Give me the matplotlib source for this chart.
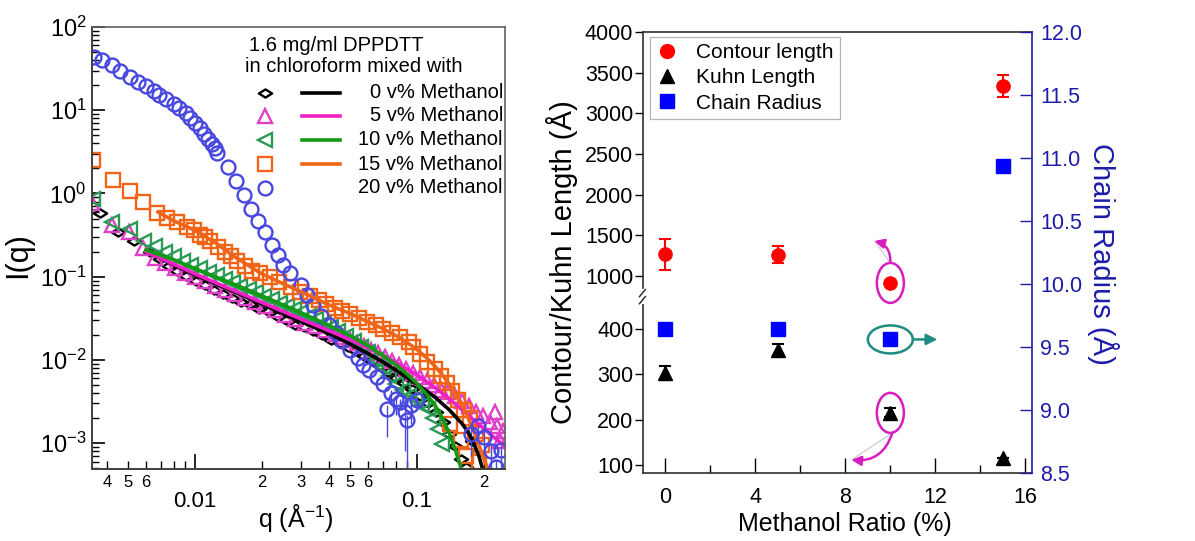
import numpy as np
import matplotlib
matplotlib.use('Agg')
import matplotlib.pyplot as plt
import matplotlib.ticker as mticker
from matplotlib.patches import Ellipse
from matplotlib.lines import Line2D
from matplotlib.path import Path
from matplotlib.transforms import ScaledTranslation

plt.rcParams['font.family'] = ['Liberation Sans', 'DejaVu Sans']
plt.rcParams['mathtext.fontset'] = 'custom'
plt.rcParams['mathtext.rm'] = 'Liberation Sans'
plt.rcParams['mathtext.it'] = 'Liberation Sans:italic'
plt.rcParams['mathtext.bf'] = 'Liberation Sans:bold'

# ---------------- left panel data: SANS I(q) ----------------
# 0 v% methanol (diamonds + fit)
q0 = [0.00373, 0.0045, 0.00531, 0.00627, 0.00695, 0.0076, 0.0083, 0.0091, 0.0101, 0.0111,
      0.0122, 0.0134, 0.0147, 0.0161, 0.0177, 0.0194, 0.0213, 0.0234, 0.0257, 0.0282,
      0.031, 0.034, 0.0373, 0.041, 0.045, 0.049, 0.0531, 0.0577, 0.0627, 0.0681,
      0.074, 0.0804, 0.0874, 0.095, 0.103, 0.112, 0.122, 0.131, 0.139, 0.148,
      0.158, 0.166, 0.176]
I0 = [0.59, 0.348, 0.265, 0.2, 0.165, 0.133, 0.116, 0.101, 0.0895, 0.080,
      0.070, 0.062, 0.055, 0.050, 0.047, 0.041, 0.0389, 0.0341, 0.030, 0.0265,
      0.025, 0.0224, 0.020, 0.0175, 0.0162, 0.0143, 0.0128, 0.0112, 0.0097, 0.0085,
      0.0072, 0.0061, 0.0053, 0.0045, 0.0037, 0.0030, 0.0024, 0.0018, 0.0013, 0.00092,
      0.00065, 0.00052, 0.00106]
fit0_q = [0.006, 0.008, 0.01, 0.015, 0.02, 0.03, 0.04, 0.05, 0.06, 0.07, 0.08, 0.1,
          0.12, 0.14, 0.16, 0.17, 0.18, 0.19, 0.197]
fit0_I = [0.2, 0.14, 0.105, 0.066, 0.047, 0.029, 0.021, 0.0155, 0.012, 0.0095, 0.0076,
          0.0051, 0.0036, 0.0025, 0.0017, 0.00135, 0.001, 0.0007, 0.0005]

# 5 v% methanol (triangles + fit)
q5 = [0.00343, 0.00423, 0.00504, 0.00583, 0.00661, 0.00732, 0.00812, 0.00901, 0.01, 0.0111,
      0.0123, 0.0137, 0.0151, 0.0168, 0.0186, 0.0207, 0.0229, 0.0254, 0.0282, 0.0313,
      0.0347, 0.0385, 0.0427, 0.0464, 0.0499, 0.0537, 0.0577, 0.062, 0.0667, 0.0718,
      0.0771, 0.0829, 0.0892, 0.0959, 0.103, 0.111, 0.119, 0.128, 0.138, 0.148,
      0.159, 0.171, 0.184, 0.198, 0.213, 0.229, 0.244, 0.236, 0.225]
I5 = [0.76, 0.42, 0.348, 0.22, 0.17, 0.146, 0.127, 0.111, 0.1, 0.0895,
      0.078, 0.070, 0.0616, 0.0553, 0.050, 0.0448, 0.040, 0.035, 0.031, 0.028,
      0.0257, 0.0231, 0.0205, 0.0189, 0.0174, 0.016, 0.0147, 0.0132, 0.0121, 0.0109,
      0.0097, 0.0088, 0.0078, 0.0069, 0.0062, 0.0056, 0.0050, 0.0044, 0.0041, 0.0037,
      0.0032, 0.0028, 0.0024, 0.0021, 0.0018, 0.0016, 0.0014, 0.00106, 0.0024]
fit5_q = [0.006, 0.008, 0.01, 0.015, 0.02, 0.03, 0.04, 0.05, 0.06, 0.07, 0.08, 0.1,
          0.12, 0.14, 0.16, 0.18, 0.2, 0.22, 0.245]
fit5_I = [0.2, 0.142, 0.108, 0.068, 0.049, 0.031, 0.0225, 0.0175, 0.014, 0.0114, 0.0094,
          0.0066, 0.0047, 0.0034, 0.0025, 0.0019, 0.0015, 0.0012, 0.00095]

# 10 v% methanol (left triangles + fit)
q10 = [0.00345, 0.0042, 0.0051, 0.0059, 0.0066, 0.0073, 0.0080, 0.0088, 0.0096, 0.0105,
       0.0115, 0.0125, 0.0136, 0.0148, 0.016, 0.0174, 0.0189, 0.0205, 0.0222, 0.024,
       0.026, 0.028, 0.030, 0.0325, 0.035, 0.038, 0.041, 0.044, 0.048, 0.052,
       0.056, 0.060, 0.065, 0.070, 0.075, 0.080, 0.086, 0.092, 0.098, 0.105,
       0.112, 0.118, 0.124, 0.130]
I10 = [0.85, 0.46, 0.37, 0.27, 0.235, 0.2, 0.175, 0.155, 0.14, 0.128,
       0.114, 0.104, 0.095, 0.086, 0.078, 0.071, 0.065, 0.059, 0.054, 0.049,
       0.045, 0.041, 0.038, 0.034, 0.031, 0.028, 0.025, 0.0225, 0.0195, 0.017,
       0.0145, 0.0125, 0.0100, 0.0082, 0.0064, 0.0052, 0.0044, 0.0037, 0.0034, 0.0029,
       0.0026, 0.0020, 0.0015, 0.00098]
fit10_q = [0.006, 0.008, 0.01, 0.015, 0.02, 0.03, 0.04, 0.05, 0.06, 0.07, 0.08, 0.09,
           0.10, 0.11, 0.12, 0.13, 0.14, 0.15, 0.158]
fit10_I = [0.21, 0.16, 0.125, 0.081, 0.059, 0.037, 0.026, 0.0195, 0.0148, 0.0114, 0.0088,
           0.0068, 0.0052, 0.0039, 0.0029, 0.002, 0.0013, 0.00078, 0.0005]

# 15 v% methanol (squares + fit)
q15 = [0.00347, 0.00427, 0.00509, 0.00583, 0.00676, 0.0075, 0.0083, 0.0092, 0.0099, 0.0105,
       0.0111, 0.0117, 0.0127, 0.0136, 0.0145, 0.0155, 0.0167, 0.018, 0.0196, 0.0217,
       0.0239, 0.0269, 0.0297, 0.0328, 0.036, 0.039, 0.0425, 0.046, 0.050, 0.055,
       0.0597, 0.065, 0.0705, 0.0772, 0.084, 0.0915, 0.096, 0.103, 0.111, 0.120,
       0.128, 0.137, 0.144, 0.153, 0.163, 0.174, 0.184, 0.197, 0.140, 0.157,
       0.166, 0.190]
I15 = [2.5, 1.47, 1.06, 0.8, 0.59, 0.51, 0.45, 0.40, 0.36, 0.32,
       0.30, 0.27, 0.23, 0.2, 0.175, 0.155, 0.135, 0.118, 0.11, 0.098,
       0.087, 0.076, 0.066, 0.058, 0.052, 0.047, 0.042, 0.039, 0.036, 0.032,
       0.0287, 0.026, 0.0234, 0.021, 0.019, 0.0165, 0.0143, 0.0118, 0.0095, 0.0078,
       0.0064, 0.0053, 0.0042, 0.0033, 0.0025, 0.002, 0.0013, 0.00095, 0.0017, 0.0011,
       0.0007, 0.0006]
fit15_q = [0.0068, 0.008, 0.01, 0.0125, 0.015, 0.02, 0.025, 0.03, 0.04, 0.05, 0.06, 0.07,
           0.08, 0.09, 0.10, 0.11, 0.12, 0.13, 0.14, 0.15, 0.16, 0.17, 0.18, 0.19, 0.20, 0.208]
fit15_I = [0.6, 0.47, 0.36, 0.25, 0.175, 0.108, 0.082, 0.066, 0.046, 0.036, 0.0288, 0.0238,
           0.0197, 0.0163, 0.0133, 0.0107, 0.0085, 0.0066, 0.0051, 0.0038, 0.0028, 0.002,
           0.0014, 0.00095, 0.00065, 0.0005]

# 20 v% methanol (circles, no fit)
q20 = [0.0035, 0.0038, 0.0042, 0.0046, 0.0051, 0.0055, 0.0060, 0.0065, 0.0069, 0.0074,
       0.0080, 0.0085, 0.0091, 0.0095, 0.0100, 0.0105, 0.0110, 0.0114, 0.0119, 0.0123,
       0.0126, 0.0141, 0.0153, 0.0166, 0.0179, 0.0192, 0.0206, 0.0222, 0.0236, 0.0248,
       0.0268, 0.030, 0.032, 0.034, 0.037, 0.040, 0.043, 0.046, 0.050, 0.054,
       0.057, 0.061, 0.066, 0.070]
I20 = [43.5, 40, 35, 29.6, 25, 21.7, 19.4, 17, 15.1, 13.6,
       11.8, 10.6, 9.2, 8.0, 6.97, 6.07, 5.14, 4.47, 3.89, 3.48,
       3.04, 2.06, 1.40, 0.97, 0.66, 0.47, 0.34, 0.243, 0.18, 0.14,
       0.112, 0.080, 0.060, 0.046, 0.034, 0.026, 0.021, 0.017, 0.013, 0.0105,
       0.0088, 0.0075, 0.0062, 0.0052]
q20_hi = [0.073, 0.076, 0.080, 0.084, 0.088, 0.090, 0.094, 0.100, 0.175, 0.188, 0.200, 0.216, 0.226, 0.240]
I20_hi = [0.0026, 0.0040, 0.0034, 0.0031, 0.0024, 0.0019, 0.0029, 0.0033, 0.0013, 0.0016, 0.0012, 0.0008, 0.00052, 0.00084]
I20_hi_lo = [0.0014, 0.0010, 0.0012, 0.0006, 0.0016, 0.0016, 0.0012, 0.0008, 0.0006, 0.0007, 0.0006, 0.0004, 0.0001, 0.0004]
I20_hi_up = [0.0003, 0.0004, 0.0003, 0.0003, 0.0003, 0.0003, 0.0003, 0.0003, 0.0002, 0.0002, 0.0002, 0.0002, 0.0001, 0.0002]

x_minor = [0.004, 0.005, 0.006, 0.007, 0.008, 0.009, 0.02, 0.03, 0.04, 0.05, 0.06, 0.07, 0.08, 0.09, 0.2]
x_minor_labels = ['4', '5', '6', '', '', '', '2', '3', '4', '5', '6', '', '', '', '2']
legend_labels = ['0 v% Methanol', '5 v% Methanol', '10 v% Methanol', '15 v% Methanol', '20 v% Methanol']

# ---------------- right panel data ----------------
ratio = [0, 5, 10, 15]
contour = [1265, 1260, 914, 3334]
contour_err = [190, 105, 0, 135]
kuhn = [303, 354, 215, 115]
kuhn_err = [16, 12, 10, 0]
radius = [9.64, 9.64, 9.56, 10.94]

W, H = 1195, 541
fig = plt.figure(figsize=(W / 100, H / 100), dpi=100)

c_blk = 'black'
c_mag = '#e040c8'
c_mag_line = '#f020c8'
c_grn = '#2a9a55'
c_grn_line = '#139a13'
c_org = '#f06418'
c_blu = '#4848e0'

# ======== left panel ========
axL = fig.add_axes([92 / W, 1 - 469 / H, 413 / W, 442 / H])
axL.set_xscale('log')
axL.set_yscale('log')

diamond = Path([(-1, 0), (0, 0.62), (1, 0), (0, -0.62), (-1, 0)],
               [Path.MOVETO, Path.LINETO, Path.LINETO, Path.LINETO, Path.CLOSEPOLY])

mk = dict(ls='none', mfc='none', mew=1.7)
axL.plot(q0, I0, marker=diamond, ms=9.5, mec=c_blk, **mk)
axL.plot(q5, I5, marker='^', ms=9.5, mec=c_mag, **mk)
axL.plot(q10, I10, marker='<', ms=9.5, mec=c_grn, **mk)
axL.plot(q15, I15, marker='s', ms=9.5, mec=c_org, **mk)
axL.plot(q20, I20, marker='o', ms=10, mec=c_blu, **mk)
axL.errorbar(q20_hi, I20_hi, yerr=[I20_hi_lo, I20_hi_up], fmt='o', ms=10, mfc='none',
             mec=c_blu, mew=1.7, ecolor=c_blu, elinewidth=1.0, capsize=0)

axL.plot(fit0_q, fit0_I, color=c_blk, lw=2.6)
axL.plot(fit5_q, fit5_I, color=c_mag_line, lw=2.6)
axL.plot(fit10_q, fit10_I, color=c_grn_line, lw=2.6)
axL.plot(fit15_q, fit15_I, color=c_org, lw=2.6)

axL.set_xlim(0.00343, 0.249)
axL.set_ylim(4.9e-4, 100)

axL.xaxis.set_major_locator(mticker.FixedLocator([0.01, 0.1]))
axL.xaxis.set_major_formatter(mticker.FixedFormatter(['0.01', '0.1']))
axL.xaxis.set_minor_locator(mticker.FixedLocator(x_minor))
axL.xaxis.set_minor_formatter(mticker.FixedFormatter(x_minor_labels))
axL.yaxis.set_major_locator(mticker.LogLocator(base=10, numticks=10))
axL.yaxis.set_major_formatter(mticker.LogFormatterMathtext())
axL.yaxis.set_minor_locator(mticker.LogLocator(base=10, subs=np.arange(2, 10), numticks=10))
axL.yaxis.set_minor_formatter(mticker.NullFormatter())

axL.tick_params(axis='x', which='major', direction='in', length=11, width=1.2, labelsize=16, pad=16)
axL.tick_params(axis='x', which='minor', direction='in', length=6, width=1.0, labelsize=12, pad=4)
axL.tick_params(axis='y', which='major', direction='in', length=9, width=1.2, labelsize=17, pad=4)
axL.tick_params(axis='y', which='minor', direction='in', length=5, width=1.0)
for s in ['left', 'bottom']:
    axL.spines[s].set_color('#404040')
    axL.spines[s].set_linewidth(1.4)
for s in ['top', 'right']:
    axL.spines[s].set_color('#606060')
    axL.spines[s].set_linewidth(1.2)

axL.set_xlabel(r'q (Å$^{-1}$)', fontsize=18)
axL.xaxis.set_label_coords(0.494, -0.075)
axL.set_ylabel('I(q)', fontsize=22)
axL.yaxis.set_label_coords(-0.143, 0.484)

# hand-made legend block
T = axL.transAxes
axL.text(0.592, 0.959, '1.6 mg/ml DPPDTT', transform=T, ha='center', va='center', fontsize=14.5)
axL.text(0.634, 0.910, 'in chloroform mixed with', transform=T, ha='center', va='center', fontsize=14.5)
rows = [0.851, 0.799, 0.745, 0.690, 0.636]
leg_mk = [(diamond, c_blk, 9.5), ('^', c_mag, 9.5), ('<', c_grn, 9.5), ('s', c_org, 9.5), ('o', c_blu, 10)]
leg_ln = [c_blk, c_mag_line, c_grn_line, c_org, None]
for yy, (m, c, s), lc, lab in zip(rows, leg_mk, leg_ln, legend_labels):
    axL.plot([0.419], [yy], transform=T, marker=m, ms=s, mfc='none', mec=c, mew=1.7, ls='none')
    if lc is not None:
        axL.plot([0.508, 0.600], [yy, yy], transform=T, color=lc, lw=2.6)
    axL.text(0.995, yy, lab, transform=T, ha='right', va='center', fontsize=14.5)

# ======== right panel ========
brk_y = [-1000.0, 468.0, 729.0, 10000.0]
brk_p = [-1.1127, 0.3965, 0.3970, 2.1064]


def fwd(y):
    return np.interp(y, brk_y, brk_p)


def inv(p):
    return np.interp(p, brk_p, brk_y)


axR = fig.add_axes([643 / W, 1 - 473 / H, 389 / W, 441 / H])
axR.set_yscale('function', functions=(fwd, inv))
axR.set_xlim(-1.0, 16.3)
axR.set_ylim(82.4, 4000)
axR.yaxis.set_major_locator(mticker.FixedLocator([100, 200, 300, 400, 1000, 1500, 2000, 2500, 3000, 3500, 4000]))
axR.yaxis.set_major_formatter(mticker.FormatStrFormatter('%d'))
axR.yaxis.set_minor_locator(mticker.NullLocator())
axR.xaxis.set_major_locator(mticker.FixedLocator([0, 4, 8, 12, 16]))
axR.xaxis.set_minor_locator(mticker.FixedLocator([2, 6, 10, 14]))

navy = '#1c1ca8'
axC = axR.twinx()
axC.set_ylim(8.5, 12.0)
axC.yaxis.set_major_locator(mticker.FixedLocator(np.arange(8.5, 12.01, 0.5)))
axC.yaxis.set_major_formatter(mticker.FormatStrFormatter('%.1f'))

axR.errorbar(ratio, contour, yerr=contour_err, fmt='o', color='red', ms=9.5,
             elinewidth=1.5, capsize=4, capthick=1.5, zorder=3)
axR.errorbar(ratio, kuhn, yerr=kuhn_err, fmt='^', color='black', ms=9.5,
             elinewidth=1.5, capsize=4, capthick=1.5, zorder=3)
axC.plot(ratio, radius, ls='none', marker='s', color='#0000ff', ms=9.5)

axR.tick_params(axis='y', direction='out', length=6, width=1.0, labelsize=15.5, pad=1)
axR.tick_params(axis='x', which='major', direction='in', length=11, width=1.0, labelsize=15.5, pad=10)
axR.tick_params(axis='x', which='minor', direction='in', length=6, width=1.0)
axC.tick_params(axis='y', direction='in', length=9, width=1.0, labelsize=15.5, pad=6,
                colors=navy)
axR.spines['right'].set_visible(False)
for s in ['left', 'top', 'bottom']:
    axR.spines[s].set_color('#303030')
    axR.spines[s].set_linewidth(1.2)
for s in ['left', 'top', 'bottom']:
    axC.spines[s].set_visible(False)
axC.spines['right'].set_color(navy)
axC.spines['right'].set_linewidth(1.2)

axR.set_xlabel('Methanol Ratio (%)', fontsize=18)
axR.xaxis.set_label_coords(0.519, -0.088)
axR.set_ylabel('Contour/Kuhn Length (Å)', fontsize=21)
axR.yaxis.set_label_coords(-0.167, 0.478)
axC.set_ylabel('Chain Radius (Å)', fontsize=21, color=navy, rotation=270, va='bottom')
axC.yaxis.set_label_coords(1.141, 0.497)

# axis break marks
TR = axR.transAxes
axR.plot([0, 0], [0.387, 0.413], transform=TR, color='white', lw=3, clip_on=False, zorder=6)
for pb in [0.392, 0.408]:
    axR.plot([-0.009, 0.006], [pb - 0.008, pb + 0.008], transform=TR, color='#303030',
             lw=1.1, clip_on=False, zorder=7)

handles = [Line2D([], [], ls='none', marker='o', color='red', ms=10),
           Line2D([], [], ls='none', marker='^', color='black', ms=10),
           Line2D([], [], ls='none', marker='s', color='#0000ff', ms=10)]
leg = axC.legend(handles, ['Contour length', 'Kuhn Length', 'Chain Radius'],
                 loc='upper left', bbox_to_anchor=(0.018, 0.989), borderaxespad=0,
                 fontsize=15, frameon=True, fancybox=False, handlelength=1.0,
                 handletextpad=0.9, labelspacing=0.3, borderpad=0.3)
leg.get_frame().set_edgecolor('#a0a0a0')
leg.get_frame().set_linewidth(0.9)

# highlight ellipses and arrows at 10 v%
mag = '#d81ec0'
teal = '#1e8c82'


def anchor(ax, x, y):
    return fig.dpi_scale_trans + ScaledTranslation(x, y, ax.transData)


tc = anchor(axR, ratio[2], contour[2])
tk = anchor(axR, ratio[2], kuhn[2])
tr = anchor(axC, ratio[2], radius[2])

axC.add_patch(Ellipse((0, 0), 0.27, 0.40, fill=False, ec=mag, lw=1.8, transform=tc))
axC.add_patch(Ellipse((0, 0), 0.27, 0.40, fill=False, ec=mag, lw=1.8, transform=tk))
axC.add_patch(Ellipse((0, 0), 0.45, 0.28, fill=False, ec=teal, lw=1.8, transform=tr))

axC.annotate('', xy=(-0.16, 0.42), xycoords=tc, xytext=(0, 0.20), textcoords=tc,
             arrowprops=dict(arrowstyle='-', color='#b8b8b8', lw=0.6, shrinkA=0, shrinkB=0))
axC.annotate('', xy=(-0.16, 0.42), xycoords=tc, xytext=(0, 0.20), textcoords=tc,
             arrowprops=dict(arrowstyle='-|>', color=mag, lw=1.8, mutation_scale=14,
                             connectionstyle='arc3,rad=0.4', shrinkA=0, shrinkB=0))
axC.annotate('', xy=(-0.39, -0.47), xycoords=tk, xytext=(0.02, -0.20), textcoords=tk,
             arrowprops=dict(arrowstyle='-', color='#b8b8b8', lw=0.6, shrinkA=0, shrinkB=0))
axC.annotate('', xy=(-0.39, -0.47), xycoords=tk, xytext=(0.02, -0.20), textcoords=tk,
             arrowprops=dict(arrowstyle='-|>', color=mag, lw=1.8, mutation_scale=14,
                             connectionstyle='arc3,rad=-0.4', shrinkA=0, shrinkB=0))
axC.annotate('', xy=(0.47, 0.0), xycoords=tr, xytext=(0.225, 0.0), textcoords=tr,
             arrowprops=dict(arrowstyle='-|>', color=teal, lw=1.8, mutation_scale=16,
                             shrinkA=0, shrinkB=0))

fig.savefig('out.png', dpi=100)
